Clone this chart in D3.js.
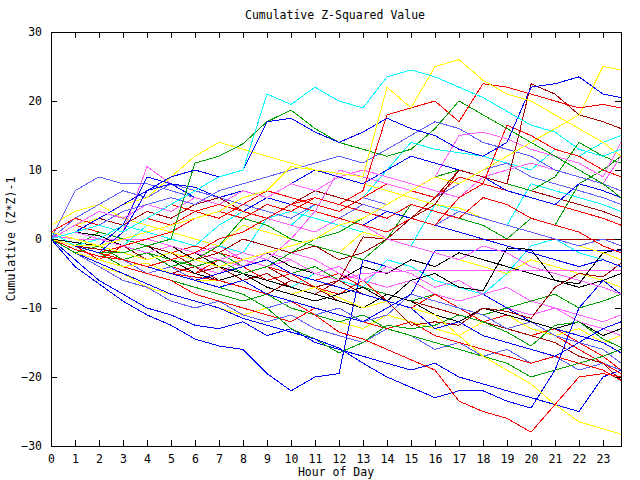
<!DOCTYPE html>
<html><head><meta charset="utf-8">
<script src="https://cdn.jsdelivr.net/npm/d3@7"></script>
<style>
body{margin:0;background:#fff}
svg text{font-family:"DejaVu Sans Mono","Liberation Mono",monospace;font-size:11.5px;fill:#000}
</style>
</head><body><svg id="chart" width="640" height="480"></svg>
<script>
// ---------- data ----------
const hours = [0,1,2,3,4,5,6,7,8,9,10,11,12,13,14,15,16,17,18,19,20,21,22,23,23.75];
const xTicks = [0,1,2,3,4,5,6,7,8,9,10,11,12,13,14,15,16,17,18,19,20,21,22,23];
const yTicks = [-30,-20,-10,0,10,20,30];
const titleText = "Cumulative Z-Squared Value";
const xLabelText = "Hour of Day";
const yLabelText = "Cumulative (Z*Z)-1";

const cyanA   = [0,1,2,1,3,5,7,9,10,21,19.5,22,20,19,23.5,24.5,23.5,22,20.5,18.5,16.5,15.5,13,12,13];
const yellowB = [0,-1,-1,0,1,2,3,4,6,7,10.5,10,9.5,9,22,19,25,26,23,21,20,18,16,14,12];
const blueD   = [0,-1,-2,1,7,9,10,9,10,17,17.5,15.5,14,15.5,17.5,16,15,13,12,14,22,22.5,23.5,21,20.5];
const greenF  = [0,-1,-2,-2,-1,0,11,12,13.8,17,18.7,16,14,13,12,13,16,20,18,16,14,12,10,8,6];
const redG    = [0,-1,-2,-3,-4,-3,-2,0,1,3,5,6,5,7,18,19,20,17,22.5,22,21,20,19,19.5,19];
const darkH   = [0,-1,-1.5,-2,-1,-2,-3,-2,0,-1,-2,-1,-3,-2,0,3,5,10,9,8,22.5,21,18,17,16];
const yellowC = [1,0,-1,-2,-3,-2,-3,-4,-3,-2,-1,0,2,3,5,7,9,8,10,12,14,16,18,25,24.5];
const yellowP = [0,2,3,5,6,9,12,14,13,12,11,10,9,8,7,6,5,4.5,3,2,1,0,-1,-2,-3];
const redI    = [0,1,2,1,3,2,4,5,4,3,5,4,3,2,1,3,2,6,8,16.5,15,13,12,10,9];
const green2  = [0,-1,-2,-3,-2,-3,-4,-3,-5,-4,-2,0,1,3,5,7,9,10,9,8,7,9,14,12,11];
const magT    = [0,1,0,-1,-2,-1,-2,-3,-2,-3,0,4,10,9,8,7,9,15,15.5,14.5,13,12,11,9,14];
const cyan2   = [0,-1,0,2,1,0,-1,2,4,3,2,5,4,6,10,14,13,12.5,12,11,10,13,12,14,15];
const red3    = [0,2,1,0,-1,-2,-1,-2,-3,-4,-5,-6,-5,-7,-8,-9,-10,-11,-12,-13,-14,-13,-15,-17,-19];
const red4    = [1,3,2,1,3,5,4,3,5,7,6,5,4,6,8,7,6,9,8,7,6,5,4,3,2];
const red5    = [0,-2,-3,-1,-2,-4,-5,-3,-4,-6,-5,-7,-8,-6,-9,-10,-8,-10,-12,-11,-12,-14,-16,-18,-19.5];
const red6    = [0,-1,-3,-4,-5,-6,-8,-9,-10,-11,-12,-10,-11,-12,-13,-12,-14,-15,-16,-17,-18,-17,-18,-19,-20.5];
const redJ    = [0,-1.5,-2.5,-3,-4,-5,-5.5,-6,-7,-8,-9,-11,-13.5,-14.5,-16,-17.5,-19,-23.5,-25,-26,-28,-24,-20,-19.5,-20];
const dark2   = [0,-1,-2,-1,-3,-2,-4,-3,-5,-4,-6,-7,-6,-8,-9,-12.5,-12,-12.5,-10,-10.5,-11.5,-7,-5,-5.5,-3.5];
const darkX   = [0,-1,-2,-3,-2,-4,-5,-4,-6,-5,-7,-8,-6,0.3,0,0,0,0,0,0,0,0,0,0,0];
const dark4   = [0,1,3,2,4,3,5,6,4,3,5,7,6,5,4,3,6,10,9,8,7,6,5,4,3];
const dark5   = [0,-1,-2,-3,-4,-5,-4,-6,-7,-8,-6,-7,-9,-10,-8,-9,-10,-11,-12,-13,-14,-15,-17,-18,-20.5];
const magW    = [0,-1,-2,-1,0,-1,-2,-3,-4,-2,-3,-5,-6,-5,-4.8,-4.6,-4.6,-4.6,-4.6,-4.6,-4.6,-4.6,-4.6,-4.6,-4.6];
const magU    = [0.5,0,0,0,0,-1,-2,-1,-3,-4,-3,-5,-4,-6,-7,-6,-8,-9,-8,-10,-11,-10,-12,-13,-14];
const mag5    = [0,2,4,3,5,4,6,5,7,6,8,7,9,10,9,8,7,6,9,10,11,10,9,8,12];
const mag6    = [0,-1,-2,-1,-3,-2,-4,-5,-3,-4,-2,-3,-5,-6,-4,-5,-7,-6,-8,-7,-9,-10,-11,-12,-11];
const magS    = [0,-1,-2,1,10.5,8,6,5,4,3,2,1,3,2,0,-1,-2,-3,-1,-2,-4,-5,-6,-7,-8];
const blueV   = [0,-1,-2,-3,-4,-5,-6,-7,-6,-8,-9,-10,-11,-12,-10,-8,-1.7,-1.7,-1.7,-1.7,-1.7,-1.7,-1.7,-1.7,-1.7];
const blueL   = [0,-4,-6.5,-9,-11,-12.5,-14.5,-15.5,-16,-19.5,-22,-20,-19.5,-3,-4,-5,-7,-6,-8,-10,-12,-13,-14,-15,-16.5];
const blueM   = [0,-2,-3.5,-5,-6.5,-8,-9,-10,-11.5,-12.5,-13.5,-14.5,-15.8,-18,-20,-21.5,-23,-22,-22,-23.5,-24.5,-19,-10,-6,-8];
const blueN   = [0,-3,-6,-8,-10,-11,-12.5,-13,-12,-14,-13,-15,-16,-17,-18,-19,-18,-20,-21,-22,-23,-24,-25,-20,-19];
const blue5   = [0,1,3,5,7,8,6,5,4,6,8,10,9,8,10,12,11,10,9,7,6,5,8,7,6];
const blue6   = [0,-1,-2,-3,-4,-5,-6,-5,-4,-3,-5,-6,-7,-8,-9,-10,-13,-12,-14,-15,-16,-17,-15,-13,-12];
const blueR   = [0,-1,-1,2,9,8,7.5,6,7,6,5,4,3,2,4,3,2,1,0,-1,-2,-3,-4,-3,-4];
const slate1  = [0,-2,-4,-6,-7,-9,-10,-9,-11,-12,-11,-13,-14,-15,-13,-14,-16,-15,-17,-16,-18,-17,-19,-18,-19];
const slate2  = [0,-1,-2,-3,-5,-4,-6,-7,-8,-10,-9,-11,-10,-12,-11,-8,-9,-10,-11,-13,-12,-14,-15,-16,-18];
const slate3  = [0,3,5,7,6,8,7,6,5,4,3,5,4,6,5,7,6,8,10,11,9,8,7,6,5];
const slateQ  = [0,7,9,8,8,7,6,5,4,6,5,4,3,5,4,3,2,4,3,2,1,0,-1,0,-1];
const slate4  = [0,1,2,4,5,6,5,7,8,9,10,11,12,11,13,15,17,16,14,13,12,10,9,8,7];
const yellow5 = [0,-2,-4,-5,-7,-8,-9,-10,-11,-10,-9,-11,-12,-13,-11,-12,-13,-14,-12,-11,-13,-14,-13,-15,-14];
const yellow4 = [2,4,5,3,2,1,0,-1,2,1,0,-1,-2,1,0,-1,-2,-3,-4,-5,-3,-4,-5,-6,-7];
const yellowK = [0,-2,-3,-4,-3.5,-5,-6,-6,-5,-7,-8,-7,-8.5,-10,-9,-10,-11,-14,-17,-19,-21,-24,-26.5,-27.5,-28.3];
const green3  = [0,-1,-2,-3,-4,-5,-6,-7,-8,-10,-13,-14.5,-16.5,-15,-12.5,-13,-12.5,-11,-12,-13.5,-15.5,-12.5,-12,-14.5,-15.7];
const green4  = [0,-1,1,0,-1,-2,-3,-2,-4,-3,-5,-4,-6,-7,-8,-9,-8,-10,-11,-10,-9,-8,-10,-9,-8];
const green5  = [0,-2,-1,-3,-2,-4,-3,-1,3,2,0,-1,-2,-3,0,5,4,3,2,0,3,2,8,10,12];
const green6  = [0,-1,-2,-4,-5,-6,-7,-8,-9,-8,-10,-11,-12,-11,-13,-14,-15,-16,-17,-18,-20,-19,-18,-17,-16];
const cyan3   = [0,-1,-2,-3,-4,-3,-4,-5,-4,-6,-7,-5,-6,-7,-3,-4,-6,-7,-8,-5,-1,0,-2,-3,-4];
const cyan4   = [1,-1,-2,-1,2,1,0,-1,-2,3,4,3,2,1,0,-1,5,4,3,2,8,7,6,5,4];
const black1  = [0,-1,-2,-3,-4,-3,-5,-6,-5,-7,-8,-9,-8,-7,-9,-6,-5,-7,-7.5,-1.3,-1.5,-6,-6.5,-2,-1.5];
const black2  = [0,-0.5,-1,-2,-1,-3,-2,-4,-5,-6,-7,-8,-9,-10,-8,-9,-11,-12,-10,-11,-12,-13,-12,-14,-13];
const black3  = [0,1,0.5,-1,-2,-1,-3,-4,-3,-2,-4,-5,-6,-4,-5,-3,-4,-2,-3,-4,-5,-6,-7,-6,-5];
const red7    = [0,-1,-2,-1,0,1,3,4,3,5,4,6,5,4,3,5,4,3,6,5,3,2,1,-1,-2];

const seriesList = [red3, green4, blueN, magU, cyan3, darkX, yellow5, slate1, black3,
                    red5, green6, blueL, mag6, cyan4, dark5, yellow4, slate2, black2,
                    red6, green3, blueM, magW, cyan2, dark2, yellowK, slate3, black1,
                    redJ, green5, blueV, magS, dark4, yellowP, slateQ, red7, blue6, blueR,
                    red4, green2, blue5, mag5, slate4, redI, magT, darkH, yellowC,
                    greenF, redG, blueD, yellowB, cyanA];
const seriesColors = ["#ff0000","#00a000","#0000ff","#ff60ff","#00ffff","#a00000","#ffff00","#6060ff","#000000",
                      "#ff0000","#00a000","#0000ff","#ff60ff","#00ffff","#a00000","#ffff00","#6060ff","#000000",
                      "#ff0000","#00a000","#0000ff","#ff60ff","#00ffff","#a00000","#ffff00","#6060ff","#000000",
                      "#ff0000","#00a000","#0000ff","#ff60ff","#a00000","#ffff00","#6060ff","#ff0000","#0000ff","#0000ff",
                      "#ff0000","#00a000","#0000ff","#ff60ff","#6060ff","#ff0000","#ff60ff","#a00000","#ffff00",
                      "#00a000","#ff0000","#0000ff","#ffff00","#00ffff"];

// ---------- drawing ----------
const svg = d3.select("#chart");
const L = 51, R = 621, T = 32, B = 446;
const x = d3.scaleLinear().domain([0, 23.75]).range([L, R]);
const y = d3.scaleLinear().domain([-30, 30]).range([B, T]);

const clip = svg.append("clipPath").attr("id","clip").append("rect")
  .attr("x", L).attr("y", T).attr("width", R - L).attr("height", B - T);

const line = d3.line().x((d, i) => x(hours[i])).y(d => y(d));
const gLines = svg.append("g").attr("clip-path","url(#clip)");
seriesList.forEach((s, k) => {
  gLines.append("path").attr("d", line(s)).attr("fill","none")
    .attr("stroke", seriesColors[k]).attr("stroke-width", 1)
    .attr("shape-rendering","crispEdges");
});

function styleAxis(g){
  g.attr("font-family", null).attr("font-size", null);
  g.selectAll("path,line").attr("stroke","#000").attr("shape-rendering","crispEdges");
}
svg.append("g").attr("transform",`translate(0,${B})`)
  .call(d3.axisBottom(x).tickValues(xTicks).tickFormat(d3.format("d")).tickSizeInner(-6).tickSizeOuter(0).tickPadding(9))
  .call(styleAxis);
svg.append("g").attr("transform",`translate(0,${T})`)
  .call(d3.axisTop(x).tickValues(xTicks).tickFormat("").tickSizeInner(-6).tickSizeOuter(0))
  .call(styleAxis);
svg.append("g").attr("transform",`translate(${L},0)`)
  .call(d3.axisLeft(y).tickValues(yTicks).tickFormat(d3.format("d")).tickSizeInner(-6).tickSizeOuter(0).tickPadding(9))
  .call(styleAxis);
svg.append("g").attr("transform",`translate(${R},0)`)
  .call(d3.axisRight(y).tickValues(yTicks).tickFormat("").tickSizeInner(-6).tickSizeOuter(0))
  .call(styleAxis);

svg.append("text").attr("x", 335).attr("y", 19).attr("text-anchor","middle").text(titleText);
svg.append("text").attr("x", 336).attr("y", 476).attr("text-anchor","middle").text(xLabelText);
svg.append("text").attr("transform","translate(15,239) rotate(-90)").attr("text-anchor","middle").text(yLabelText);
</script>
</body></html>
